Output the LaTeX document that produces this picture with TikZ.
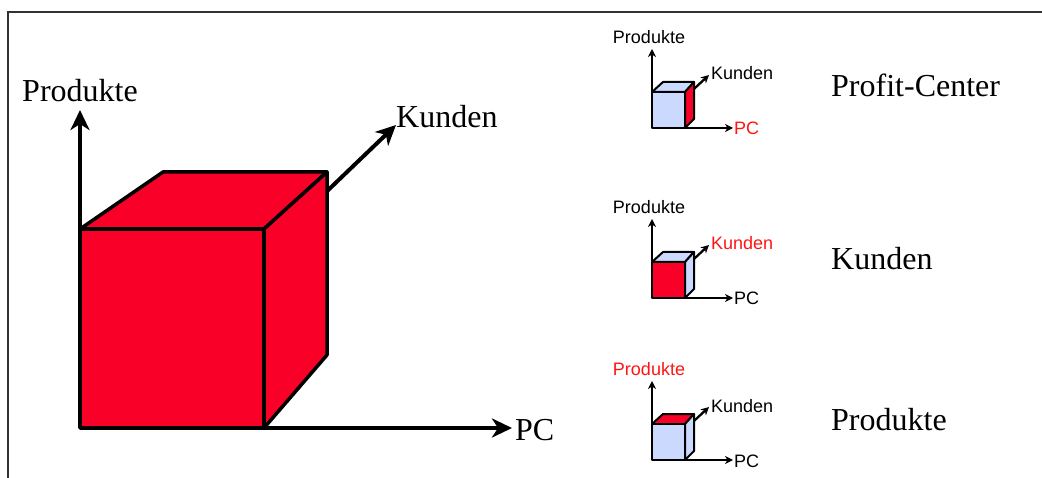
\documentclass[tikz,border=0pt]{standalone}
\usepackage{fontspec}
\setmainfont{Liberation Serif}
\newfontfamily\arialfont{Liberation Sans}
\usetikzlibrary{arrows.meta}
\definecolor{cubered}{RGB}{248,0,40}
\definecolor{cubeblue}{RGB}{204,217,255}
\definecolor{labelred}{RGB}{255,20,20}
\definecolor{framegray}{RGB}{50,50,50}

\begin{document}
\begin{tikzpicture}[x=1pt,y=-1pt,
  bigaxis/.style={line width=4.5pt,-{Stealth[length=20pt,width=19pt,inset=6pt]}},
  bigface/.style={fill=cubered,draw=black,line width=3.5pt,line join=round},
  biglabel/.style={font=\fontsize{32}{36}\selectfont,inner sep=0pt},
  smallaxis/.style={line width=2.3pt,-{Stealth[length=8pt,width=8pt,inset=2.5pt]}},
  smallface/.style={draw=black,line width=2pt,line join=round},
  smalllabel/.style={font=\arialfont\fontsize{18}{20}\selectfont,inner sep=0pt},
]
\useasboundingbox (0,0) rectangle (1042,478);

% frame (top and left only)
\draw[framegray,line width=2pt] (8,478) -- (8,12) -- (1042,12);

% ---- large cube with its three axes ----
\coordinate (O) at (80,428);
\coordinate (Ptip) at (80,110);
\coordinate (Ktip) at (396,125);
\coordinate (Ctip) at (512,428);

% Kunden axis runs behind the cube
\draw[bigaxis,line width=4pt] (O) -- (Ktip);

\filldraw[bigface] (80,229) -- (163,172) -- (327,172) -- (264,229) -- cycle;
\filldraw[bigface] (264,229) -- (327,172) -- (327,355) -- (264,428) -- cycle;
\filldraw[bigface] (80,229) rectangle (264,428);

\draw[bigaxis] (O) -- (Ptip);
\draw[bigaxis] (O) -- (Ctip);

\node[biglabel,anchor=base] (lprod) at (80,102) {Produkte};
\node[biglabel,anchor=base west] (lkund) at (396,128) {Kunden};
\node[biglabel,anchor=base west] (lpc) at (515,440) {PC};

% ---- captions of the small views ----
\node[biglabel,anchor=base west] (cap1) at (831,97) {Profit-Center};
\node[biglabel,anchor=base west] (cap2) at (831,270) {Kunden};
\node[biglabel,anchor=base west] (cap3) at (831,430) {Produkte};

% ---- small views: front / top / side colours and label colours ----
\foreach \i/\yo/\cf/\ct/\cs/\cpl/\ckl/\cpcl in {
    1/128/cubeblue/cubeblue/cubered/black/black/labelred,
    2/298/cubered/cubeblue/cubeblue/black/labelred/black,
    3/460/cubeblue/cubered/cubeblue/labelred/black/black}{
  \coordinate (o\i) at (652,\yo);
  \coordinate (py\i) at (652,\yo-79);
  \coordinate (kx\i) at (709,\yo-53);
  \coordinate (px\i) at (733,\yo);
  \draw[smallaxis] (o\i) -- (kx\i);
  \filldraw[smallface,fill=\ct] (652,\yo-36) -- (663,\yo-46) -- (694,\yo-46) -- (685,\yo-36) -- cycle;
  \filldraw[smallface,fill=\cs] (685,\yo-36) -- (694,\yo-46) -- (694,\yo-9) -- (685,\yo) -- cycle;
  \filldraw[smallface,fill=\cf] (652,\yo-36) rectangle (685,\yo);
  \draw[smallaxis] (o\i) -- (py\i);
  \draw[smallaxis] (o\i) -- (px\i);
  \node[smalllabel,anchor=base,text=\cpl] (sp\i) at (649,\yo-84) {Produkte};
  \node[smalllabel,anchor=base west,text=\ckl] (sk\i) at (711,\yo-48) {Kunden};
  \node[smalllabel,anchor=base west,text=\cpcl] (sc\i) at (734,\yo+7) {PC};
}
\end{tikzpicture}
\end{document}
